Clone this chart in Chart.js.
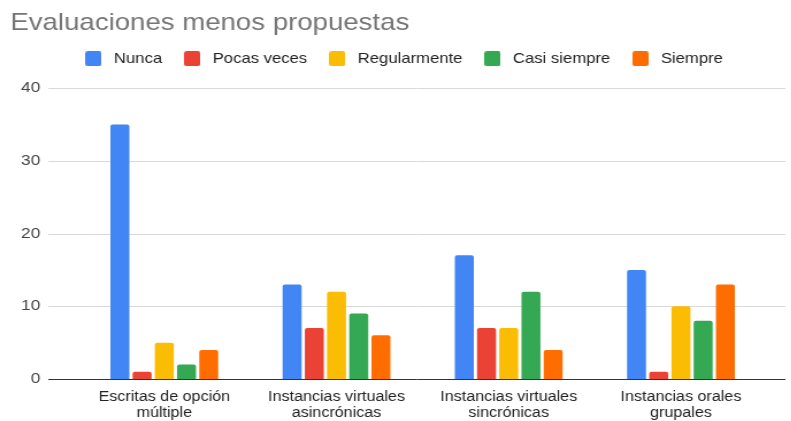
<!DOCTYPE html>
<html>
<head>
<meta charset="utf-8">
<script src="https://cdn.jsdelivr.net/npm/chart.js@4.4.1/dist/chart.umd.min.js"></script>
<style>
  html, body { margin: 0; padding: 0; background: #fff; overflow: hidden; }
  /* el original esta estirado en horizontal, se imita con scaleX */
  #wrap { position: relative; width: 688px; height: 421px; transform: scaleX(1.15); transform-origin: 0 0; }
</style>
</head>
<body>
<div id="wrap"><canvas id="chart"></canvas></div>
<script>
// Datos del grafico
const categories = [
    ['Escritas de opción', 'múltiple'],
    ['Instancias virtuales', 'asincrónicas'],
    ['Instancias virtuales', 'sincrónicas'],
    ['Instancias orales', 'grupales']
];
const seriesNames = ['Nunca', 'Pocas veces', 'Regularmente', 'Casi siempre', 'Siempre'];
const nunca = [35, 13, 17, 15];
const pocasVeces = [1, 7, 7, 1];
const regularmente = [5, 12, 7, 10];
const casiSiempre = [2, 9, 12, 8];
const siempre = [4, 6, 4, 13];
const yTicks = [0, 10, 20, 30, 40];

const colors = ['#4285F4', '#EA4335', '#FBBC04', '#34A853', '#FF6D01'];
const seriesValues = [nunca, pocasVeces, regularmente, casiSiempre, siempre];
const FONT = 'Liberation Sans, Arial, sans-serif';

// cuadrito de la leyenda con esquinas redondeadas
function makeSwatch(color) {
    const c = document.createElement('canvas');
    c.width = 14; c.height = 15;
    const g = c.getContext('2d');
    g.fillStyle = color;
    g.beginPath();
    g.roundRect(0, 0, 14, 15, 2);
    g.fill();
    return c;
}

// Ajustes de posicion y lineas de grilla mas anchas que el area del grafico
const wideGrid = {
    id: 'wideGrid',
    afterLayout(chart) {
        // la leyenda del original esta un poco corrida a la derecha
        chart.legend.left += 11.7;
        chart.legend.right += 11.7;
        chart.legend.top -= 12;
        chart.legend.bottom -= 12;
        chart.titleBlock.top -= 16;
        chart.titleBlock.bottom -= 16;
        // etiquetas del eje x mas abajo, quedan cortadas como en el original
        chart.scales.x.top += 8;
        chart.scales.x.bottom += 8;
    },
    beforeDatasetsDraw(chart) {
        const ctx = chart.ctx;
        const y = chart.scales.y;
        ctx.save();
        yTicks.forEach(v => {
            const py = Math.round(y.getPixelForValue(v)) + 0.5;
            ctx.beginPath();
            ctx.moveTo(42, py);
            ctx.lineTo(683, py);
            ctx.lineWidth = 1;
            ctx.strokeStyle = v === 0 ? '#333333' : '#d9d9d9';
            ctx.stroke();
        });
        ctx.restore();
    }
};

const ctx = document.getElementById('chart').getContext('2d');
new Chart(ctx, {
    type: 'bar',
    data: {
        labels: categories,
        datasets: seriesNames.map((name, i) => ({
            label: name,
            data: seriesValues[i],
            backgroundColor: colors[i],
            borderRadius: { topLeft: 2, topRight: 2 },
            borderSkipped: 'bottom',
            categoryPercentage: 0.645,
            barPercentage: 0.854
        }))
    },
    options: {
        responsive: true,
        maintainAspectRatio: false,
        animation: false,
        layout: { padding: { left: 9, right: 21, top: 0, bottom: 0 } },
        plugins: {
            title: {
                display: true,
                text: 'Evaluaciones menos propuestas',
                align: 'start',
                color: '#757575',
                font: { family: FONT, size: 24, weight: 'normal' },
                padding: { top: 12, bottom: -5.5 }
            },
            legend: {
                position: 'top',
                labels: {
                    usePointStyle: true,
                    pointStyleWidth: 21,
                    boxHeight: 14,
                    padding: 15.7,
                    color: '#222222',
                    font: { family: FONT, size: 14.5 },
                    generateLabels: (c) => {
                        const items = Chart.defaults.plugins.legend.labels.generateLabels(c);
                        items.forEach((it, i) => { it.pointStyle = makeSwatch(colors[i]); });
                        return items;
                    }
                }
            },
            tooltip: { enabled: false }
        },
        scales: {
            x: {
                grid: { display: false, drawTicks: false },
                border: { display: false },
                ticks: {
                    color: '#222222',
                    font: { family: FONT, size: 14, lineHeight: '16px' },
                    padding: 2,
                    maxRotation: 0,
                    autoSkip: false
                }
            },
            y: {
                min: 0,
                max: 40,
                afterBuildTicks: (s) => { s.ticks = yTicks.map(v => ({ value: v })); },
                grid: { display: false, drawTicks: false },
                border: { display: false },
                ticks: {
                    color: '#444444',
                    font: { family: FONT, size: 15 },
                    padding: 33
                },
                afterFit: (s) => { s.width = 59; s.paddingTop = 88; }
            }
        }
    },
    plugins: [wideGrid]
});
</script>
</body>
</html>
